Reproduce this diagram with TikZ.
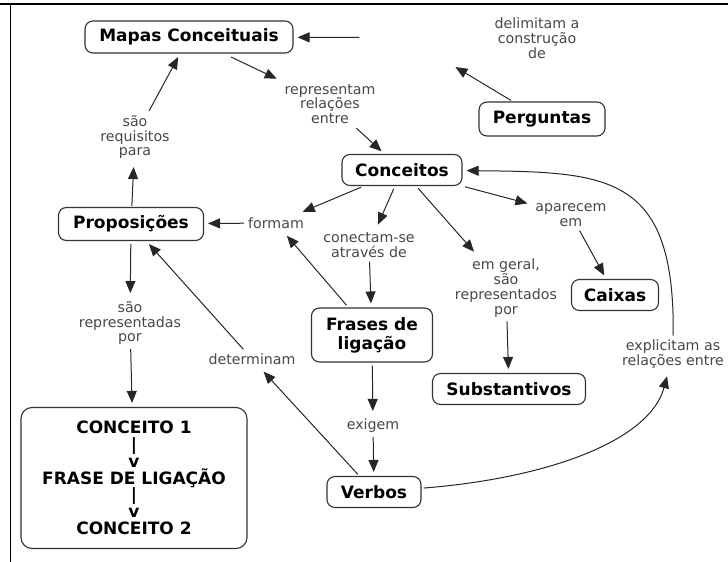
\documentclass[tikz,border=0pt]{standalone}
\usepackage{fontspec}
\setmainfont{DejaVu Sans}
\usetikzlibrary{arrows.meta}

\begin{document}
\begin{tikzpicture}[x=1pt,y=-1pt,
  conc/.style={draw=black!80,line width=1.1pt,rounded corners=8pt,fill=white,align=center,inner sep=1pt,font=\fontsize{17}{19}\selectfont\bfseries},
  lbl/.style={align=center,text=black!72,inner sep=4pt,font=\fontsize{14.2}{14.8}\selectfont},
  arr/.style={-{Triangle[length=12pt,width=10pt]},line width=1pt,draw=black!85,shorten >=4pt}]
\useasboundingbox (0,0) rectangle (728,562);
\clip (0,0) rectangle (728,562);
\draw[line width=2pt] (0,4) -- (728,4);
\draw[line width=0.9pt] (10,4) -- (10,562);

\node(mapas) at (189,37)[conc,minimum width=208pt,minimum height=32pt] {Mapas Conceituais};
\node(perg) at (542,119)[conc,minimum width=126pt,minimum height=34pt] {Perguntas};
\node(conc) at (402,170)[conc,minimum width=120pt,minimum height=31pt] {Conceitos};
\node(prop) at (131,224)[conc,minimum width=145pt,minimum height=33pt] {Proposições};
\node(caixas) at (615,295)[conc,minimum width=87pt,minimum height=31pt] {Caixas};
\node(subst) at (509,389)[conc,minimum width=153pt,minimum height=31pt] {Substantivos};
\node(frases) at (372,335)[conc,minimum width=121pt,minimum height=54pt] {Frases de\\ligação};
\node(verbos) at (374,492)[conc,minimum width=94pt,minimum height=31pt] {Verbos};
\node(modelo) at (134,478)[conc,rounded corners=11pt,minimum width=226pt,minimum height=141pt,font=\fontsize{17}{16.8}\selectfont\bfseries] {CONCEITO 1\\|\\v\\FRASE DE LIGAÇÃO\\|\\v\\CONCEITO 2};

\node(delim) at (537,38)[lbl] {delimitam a\\construção\\de};
\node(repr) at (330,104)[lbl] {representam\\relações\\entre};
\node(requis) at (135,137)[lbl] {são\\requisitos\\para};
\node(formam) at (276,223)[lbl] {formam};
\node(conect) at (369,245)[lbl] {conectam-se\\através de};
\node(aparec) at (571,215)[lbl] {aparecem\\em};
\node(geral) at (506,288)[lbl] {em geral,\\são\\representados\\por};
\node(reprpor) at (130,323)[lbl] {são\\representadas\\por};
\node(determ) at (252,359)[lbl] {determinam};
\node(exigem) at (373,426)[lbl] {exigem};
\node(explic) at (673,354)[lbl] {explicitam as\\relações entre};

\draw[arr,shorten <=131pt] (delim) -- (mapas);
\draw[arr,shorten <=2pt] (perg) -- ([shift={(-85,27)}]delim.center);
\draw[arr,shorten <=8pt] (mapas) -- (repr);
\draw[arr] (repr) -- (conc);
\draw[arr] (requis) -- (mapas);
\draw[arr,shorten <=1pt] (prop) -- (requis);
\draw[arr] (formam) -- (prop);
\draw[arr,shorten <=3pt] (conc) -- (formam);
\draw[arr,shorten <=3pt] (conc) -- (conect);
\draw[arr] (conect) -- (frases);
\draw[arr,shorten <=3pt] (frases) -- (formam);
\draw[arr,shorten <=3pt] (conc) -- (geral);
\draw[arr,shorten <=3pt] (conc) -- (aparec);
\draw[arr] (aparec) -- (caixas);
\draw[arr] (geral) -- (subst);
\draw[arr,shorten <=3pt] (frases) -- (exigem);
\draw[arr] (exigem) -- (verbos);
\draw[arr,shorten <=2pt] (verbos) -- (determ);
\draw[arr] (determ) -- (prop);
\draw[arr,shorten <=3pt] (prop) -- (reprpor);
\draw[arr] (reprpor) -- (modelo);
\draw[arr,shorten <=2pt] (verbos) .. controls (550,478) and (650,440) .. (explic);
\draw[arr] (explic) .. controls (675,175) and (610,172) .. (conc);
\end{tikzpicture}
\end{document}
